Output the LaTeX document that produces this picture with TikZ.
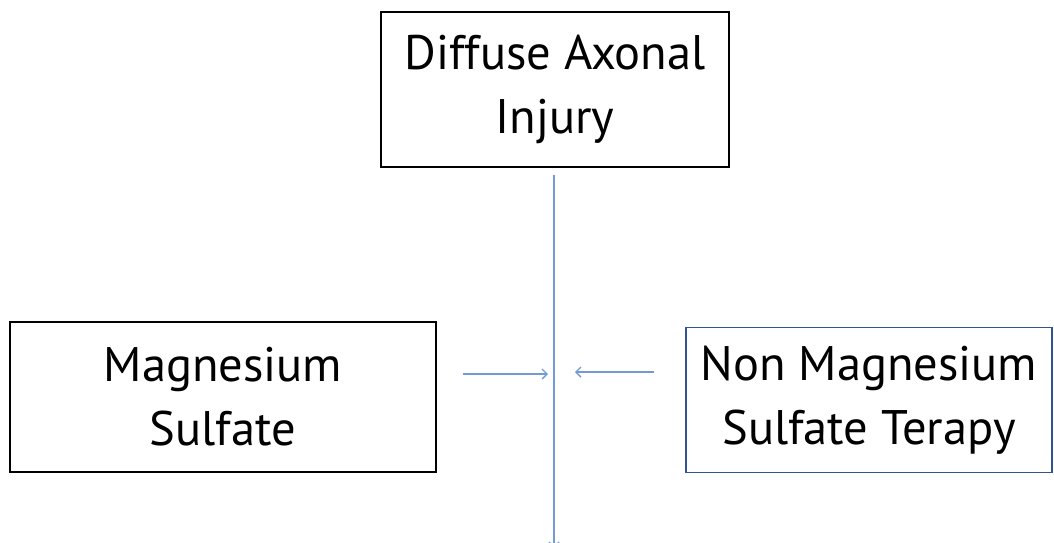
\documentclass[tikz,border=0pt]{standalone}
\usepackage{fontspec}
\setmainfont{PT Sans}
\usetikzlibrary{arrows.meta}
\definecolor{linkblue}{HTML}{7399D6}
\definecolor{boxblue}{HTML}{2F5597}
\tikzset{
  box/.style={draw=black, line width=1.6pt, align=center, inner sep=0pt,
    font=\fontsize{48.5}{64}\selectfont},
  link/.style={draw=linkblue, line width=1.3pt},
  arr/.style={link, -{Straight Barb[length=5pt,width=10pt,line width=1.4pt]}}
}
\begin{document}
\begin{tikzpicture}[x=1pt,y=-1pt]
\useasboundingbox (0,0) rectangle (1054,542);
\node[box, minimum width=348pt, minimum height=155pt] (dai) at (555,89.5) {Diffuse Axonal\\Injury};
\node[box, minimum width=426pt, minimum height=150pt] (mgs) at (223,397) {Magnesium\\Sulfate};
\node[box, draw=boxblue, minimum width=366pt, minimum height=145pt] (nmg) at (869,400) {Non Magnesium\\Sulfate Terapy};
\coordinate (top) at (554,175);
\coordinate (bot) at (554,548);
\coordinate (la) at (463,374);
\coordinate (lb) at (548,374);
\coordinate (ra) at (654,372);
\coordinate (rb) at (575,372);
\draw[arr] (top) -- (bot);
\draw[arr] (la) -- (lb);
\draw[arr] (ra) -- (rb);
\end{tikzpicture}
\end{document}
